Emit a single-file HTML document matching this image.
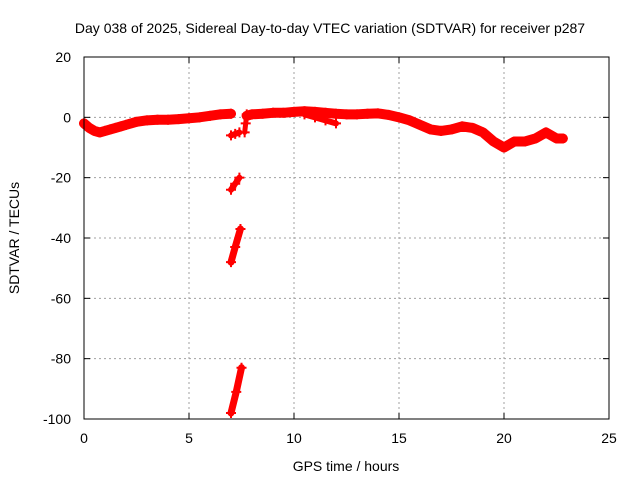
<!DOCTYPE html>
<html><head><meta charset="utf-8"><style>
body{margin:0;background:#fff;}
svg{font-family:"Liberation Sans",sans-serif;font-size:14px;}
</style></head><body>
<svg width="640" height="480" id="c">
<text x="330" y="33" text-anchor="middle">Day 038 of 2025, Sidereal Day-to-day VTEC variation (SDTVAR) for receiver p287</text>
<text x="0" y="0" transform="translate(19,238) rotate(-90)" text-anchor="middle">SDTVAR / TECUs</text>
<text x="346" y="471" text-anchor="middle">GPS time / hours</text>
<g id="grid"></g>
<g id="marks"></g>
<rect x="84" y="57" width="525" height="362" fill="none" stroke="#000" stroke-width="1"/>
</svg>
<script>
const xTicks=[0,5,10,15,20,25];
const yTicks=[20,0,-20,-40,-60,-80,-100];
const mainHours=[0,0.25,0.5,0.75,1,1.25,1.5,1.75,2,2.5,3,3.5,4,4.5,5,5.5,6,6.5,7];
const mainVals=[-2,-3.5,-4.5,-5,-4.5,-4,-3.5,-3,-2.5,-1.5,-1,-0.8,-0.8,-0.6,-0.3,0,0.5,1,1.2];
const main2Hours=[7.75,8,8.5,9,9.5,10,10.5,11,11.5,12,12.5,13,13.5,14,14.5,15,15.5,16,16.5,17,17.5,18,18.5,19,19.5,20,20.5,21,21.5,22,22.5,22.8];
const main2Vals=[0.5,1,1.2,1.5,1.5,1.8,2,1.8,1.5,1.2,1,1,1.2,1.3,0.8,0,-1,-2.5,-4,-4.5,-4,-3,-3.5,-5,-8,-10,-8,-8,-7,-5,-7,-7];
const band2Hours=[10.5,11,11.5,12];
const band2Vals=[1,0,-1,-2];
const seg1Hours=[7,7.25,7.5];const seg1Vals=[-98,-91,-83];
const seg2Hours=[7,7.2,7.45];const seg2Vals=[-48,-43,-37];
const seg3Hours=[7,7.2,7.4];const seg3Vals=[-24,-22,-20];
const seg4Hours=[7,7.2,7.4];const seg4Vals=[-6,-5.5,-5];
const spikeHours=[7.65,7.7,7.75];const spikeVals=[-5,-2,1];
const X0=84,X1=609,Y0=419,Y1=57;
function sx(h){return X0+(h-0)/(25-0)*(X1-X0);}
function sy(v){return Y0-(v-(-100))/(20-(-100))*(Y0-Y1);}
const NS="http://www.w3.org/2000/svg";
const svg=document.getElementById('c'),grid=document.getElementById('grid'),marks=document.getElementById('marks');
function mk(t,a,p){const e=document.createElementNS(NS,t);for(const k in a)e.setAttribute(k,a[k]);p.appendChild(e);return e;}
xTicks.forEach(t=>{
 const x=sx(t);
 if(t>0&&t<25){const l=mk('line',{x1:x,x2:x,y1:Y1,y2:Y0,stroke:'#a0a0a0','stroke-dasharray':'2,3'},grid);
 
 }
 mk('line',{x1:x,x2:x,y1:Y0,y2:Y0-6,stroke:'#000'},grid);
 mk('line',{x1:x,x2:x,y1:Y1,y2:Y1+6,stroke:'#000'},grid);
 const tx=mk('text',{x:x,y:443,'text-anchor':'middle'},grid);tx.textContent=t;
 
 
});
yTicks.forEach(t=>{
 const y=sy(t);
 if(t<20&&t>-100){const l=mk('line',{x1:X0,x2:X1,y1:y,y2:y,stroke:'#a0a0a0','stroke-dasharray':'2,3'},grid);
 
 }
 mk('line',{x1:X0,x2:X0+6,y1:y,y2:y,stroke:'#000'},grid);
 mk('line',{x1:X1,x2:X1-6,y1:y,y2:y,stroke:'#000'},grid);
 const tx=mk('text',{x:71,y:y+5,'text-anchor':'end'},grid);tx.textContent=t;
 
 
});
function series(hs,vs,w,name){
 const pts=hs.map((h,i)=>sx(h)+','+sy(vs[i])).join(' ');
 const pl=mk('polyline',{points:pts,fill:'none',stroke:'#f00','stroke-width':w,'stroke-linejoin':'round','stroke-linecap':'round'},marks);
 
 
 hs.forEach((h,i)=>{const x=sx(h),y=sy(vs[i]);
  mk('path',{d:`M${x-5},${y}H${x+5}M${x},${y-5}V${y+5}`,stroke:'#f00','stroke-width':2},marks);});
}
series(mainHours,mainVals,10,'track-early');
series(main2Hours,main2Vals,10,'track-main');
series(band2Hours,band2Vals,6,'track-secondary');
series(seg1Hours,seg1Vals,7,'segment-low');
series(seg2Hours,seg2Vals,7,'segment-mid');
series(seg3Hours,seg3Vals,6,'segment-upper');
series(seg4Hours,seg4Vals,6,'segment-top');
series(spikeHours,spikeVals,5,'spike');
</script>
</body></html>
